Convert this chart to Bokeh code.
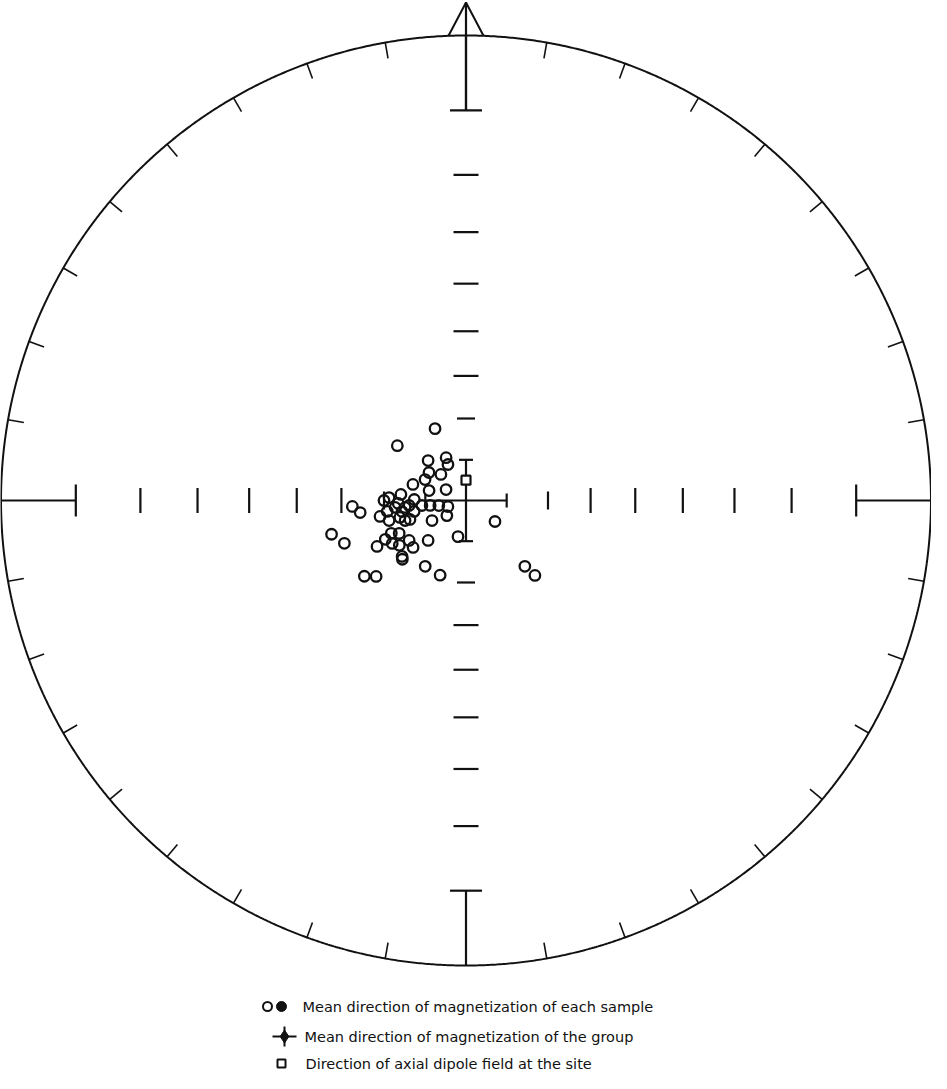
import numpy as np
from bokeh.plotting import figure
from bokeh.models import Range1d
from bokeh.embed import file_html
from bokeh.resources import INLINE
from bokeh.core.properties import value

# ---------------- data ----------------
# Mean direction of magnetization of each sample: declination / inclination (deg)
sample_dec = [336.7, 308.6, 316.5, 335.1, 333.4, 307.1, 316.1, 297.1, 286.8, 285.1,
              298.8, 275.3, 272.2, 270.0, 267.5, 271.1, 265.0, 263.5, 262.1, 259.5,
              251.6, 267.0, 263.5, 262.1, 260.2, 258.1, 259.5, 255.6, 255.4, 251.8,
              239.5, 231.7, 125.9, 255.9, 250.6, 246.3, 243.8, 244.3, 242.7, 239.8,
              236.1, 234.9, 228.4, 223.5, 192.5, 228.8, 227.3, 211.8, 199.1, 233.3,
              229.8, 138.2, 137.4, 264.4, 263.5, 251.3]
sample_inc = [70.9, 68.6, 76.5, 78.4, 80.1, 78.6, 81.1, 78.7, 76.4, 80.6,
              84.4, 74.0, 71.2, 70.0, 73.4, 77.3, 76.0, 79.1, 81.1, 83.2,
              85.3, 62.5, 64.2, 70.6, 74.1, 77.0, 68.7, 73.3, 70.6, 74.3,
              80.3, 84.0, 81.2, 56.8, 59.0, 70.1, 71.8, 68.2, 65.7, 69.2,
              70.4, 73.0, 72.7, 76.5, 80.9, 69.3, 68.9, 71.1, 70.7, 59.5,
              61.6, 68.5, 65.3, 72.6, 75.0, 75.5]
# Direction of axial dipole field at the site
dipole_dec = [0.0]
dipole_inc = [85.0]
# Net graduations
axis_azimuths = [0, 90, 180, 270]
axis_end_inc = 10          # T-bar of the outer axis segment
axis_tick_inc = [20, 30, 40, 50, 60, 70]
axis_inner_inc = 80        # inner cross
rim_tick_az = [a for a in range(10, 360, 10) if a % 90 != 0]
legend_labels = ["Mean direction of magnetization of each sample",
                 "Mean direction of magnetization of the group",
                 "Direction of axial dipole field at the site"]

# ---------------- geometry ----------------
W, H = 931, 1073
R = 465.0            # radius of the net in px
CX, CY = 465.5, 500.0
PX = 1.0 / R


def stereo_r(inc):
    return np.tan(np.radians(90.0 - np.asarray(inc, dtype=float)) / 2.0)


def project(dec, inc):
    r = stereo_r(inc)
    d = np.radians(np.asarray(dec, dtype=float))
    return r * np.sin(d), r * np.cos(d)


p = figure(width=W, height=H,
           x_range=Range1d(-CX / R, (W - CX) / R),
           y_range=Range1d(-(H - CY) / R, CY / R),
           output_backend="svg", toolbar_location=None,
           x_axis_location=None, y_axis_location=None, min_border=0)
p.grid.visible = False
p.outline_line_color = None
p.background_fill_color = "white"

INK = "#111111"

# primitive circle
th = np.linspace(0, 2 * np.pi, 1441)
p.line(np.cos(th), np.sin(th), line_color=INK, line_width=2)

# rim ticks
xs, ys = [], []
for az in rim_tick_az:
    a = np.radians(az)
    xs.append([np.sin(a), (1 - 16 * PX) * np.sin(a)])
    ys.append([np.cos(a), (1 - 16 * PX) * np.cos(a)])
p.multi_line(xs, ys, line_color=INK, line_width=1.6)

# axes with graduations
r10 = float(stereo_r(axis_end_inc))
r80 = float(stereo_r(axis_inner_inc))
ax_xs, ax_ys = [], []
for az in axis_azimuths:
    a = np.radians(az)
    ux, uy = np.sin(a), np.cos(a)
    vx, vy = np.cos(a), -np.sin(a)
    # outer segment
    ax_xs.append([ux * 1.0, ux * r10]); ax_ys.append([uy * 1.0, uy * r10])
    hb = 16 * PX
    ax_xs.append([ux * r10 - vx * hb, ux * r10 + vx * hb])
    ax_ys.append([uy * r10 - vy * hb, uy * r10 + vy * hb])
    # inner graduations
    for inc in axis_tick_inc:
        rr = float(stereo_r(inc))
        ht = (9 if inc == 70 else 12.5) * PX
        ax_xs.append([ux * rr - vx * ht, ux * rr + vx * ht])
        ax_ys.append([uy * rr - vy * ht, uy * rr + vy * ht])
    # inner cross
    ax_xs.append([0, ux * r80]); ax_ys.append([0, uy * r80])
    hi = 7 * PX
    ax_xs.append([ux * r80 - vx * hi, ux * r80 + vx * hi])
    ax_ys.append([uy * r80 - vy * hi, uy * r80 + vy * hi])
p.multi_line(ax_xs, ax_ys, line_color=INK, line_width=2.2)

# north arrow
tip = 1.0 + 33 * PX
bh = 17.5 * PX
by = np.sqrt(1 - bh ** 2)
p.line([-bh, 0, bh], [by, tip, by], line_color=INK, line_width=2)
p.line([0, 0], [r10, tip], line_color=INK, line_width=2.2)

# sample directions
sx, sy = project(sample_dec, sample_inc)
p.scatter(sx, sy, marker="circle", size=10.5, fill_alpha=0,
          line_color=INK, line_width=2.3)

# axial dipole
dx, dy = project(dipole_dec, dipole_inc)
p.scatter(dx, dy, marker="square", size=9, fill_color="white",
          line_color=INK, line_width=2.2)


# ---------------- legend ----------------
def fx(page_x):
    return (page_x - 8 - CX) / R


def fy(page_y):
    return (CY - (page_y - 8)) / R


ly = [1014, 1044, 1071]
p.scatter([fx(275)], [fy(ly[0])], marker="circle", size=9, fill_alpha=0,
          line_color=INK, line_width=2)
p.scatter([fx(289)], [fy(ly[0])], marker="circle", size=10, fill_color=INK,
          line_color=INK)
p.line([fx(280), fx(304)], [fy(ly[1]), fy(ly[1])], line_color=INK, line_width=2)
p.line([fx(292), fx(292)], [fy(ly[1] - 10), fy(ly[1] + 10)], line_color=INK, line_width=2)
p.scatter([fx(292)], [fy(ly[1])], marker="diamond", size=13, fill_color=INK,
          line_color=INK)
p.scatter([fx(289)], [fy(ly[2])], marker="square", size=8, fill_color="white",
          line_color=INK, line_width=2)

tx = [fx(310), fx(312), fx(313)]
p.text(tx, [fy(v) for v in ly], text=legend_labels,
       text_font=value("DejaVu Sans"), text_font_size="14.5px",
       text_baseline="middle", text_align="left", text_color=INK)

open("out.html", "w").write(file_html(p, INLINE))
